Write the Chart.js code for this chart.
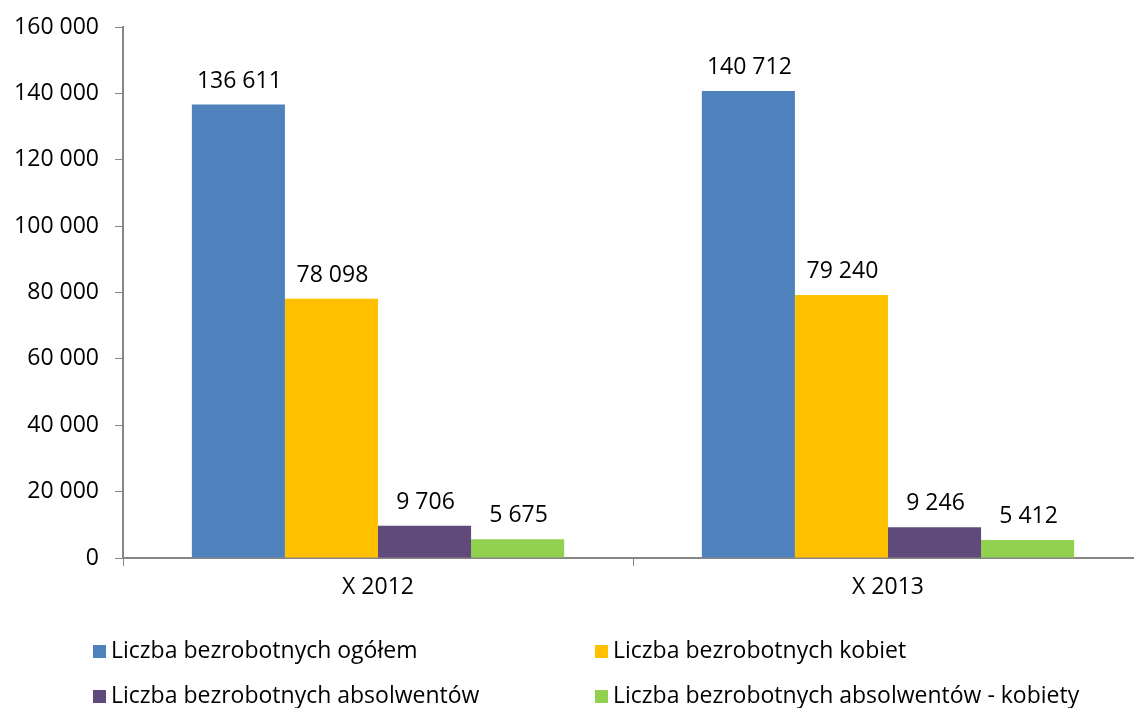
<!DOCTYPE html>
<html>
<head>
<meta charset="utf-8">
<script src="https://cdn.jsdelivr.net/npm/chart.js@4.4.0/dist/chart.umd.min.js"></script>
<style>
  html, body { margin: 0; padding: 0; background: #fff; overflow: hidden; }
  #wrap { position: relative; width: 1150px; height: 708px; }
  #legend { position: absolute; left: 0; top: 0; font-family: "Open Sans", sans-serif; font-size: 23px; color: #000; }
  .item { position: absolute; white-space: nowrap; line-height: 26px; }
  .item span.box { display: inline-block; width: 13px; height: 13px; margin-right: 5px; vertical-align: 0px; }
</style>
</head>
<body>
<div id="wrap">
  <canvas id="grafica" width="1150" height="708"></canvas>
  <div id="legend"></div>
</div>
<script>
// Dane
const categories = ['X 2012', 'X 2013'];
const seriesNames = [
  'Liczba bezrobotnych ogółem',
  'Liczba bezrobotnych kobiet',
  'Liczba bezrobotnych absolwentów',
  'Liczba bezrobotnych absolwentów - kobiety'
];
const ogolem = [136611, 140712];
const kobiet = [78098, 79240];
const absolwentow = [9706, 9246];
const absolwentowKobiety = [5675, 5412];
const seriesColors = ['#4F81BD', '#FFC000', '#604A7B', '#92D050'];
const yTicks = [0, 20000, 40000, 60000, 80000, 100000, 120000, 140000, 160000];

const fmt = v => String(v).replace(/\B(?=(\d{3})+(?!\d))/g, ' ');
const FONT = '"Open Sans", sans-serif';

// etykiety nad słupkami
const valueLabels = {
  id: 'valueLabels',
  afterDatasetsDraw(chart) {
    const ctx = chart.ctx;
    ctx.save();
    ctx.font = '23px ' + FONT;
    ctx.fillStyle = '#000';
    ctx.textAlign = 'center';
    ctx.textBaseline = 'bottom';
    chart.data.datasets.forEach((ds, i) => {
      chart.getDatasetMeta(i).data.forEach((bar, j) => {
        ctx.fillText(fmt(ds.data[j]), bar.x + 1, bar.y - 12);
      });
    });
    ctx.restore();
  }
};

const allSeries = [ogolem, kobiet, absolwentow, absolwentowKobiety];

document.addEventListener('DOMContentLoaded', function () {
  const ctx = document.getElementById('grafica').getContext('2d');
  new Chart(ctx, {
    type: 'bar',
    data: {
      labels: categories,
      datasets: allSeries.map((d, i) => ({
        label: seriesNames[i],
        data: d,
        backgroundColor: seriesColors[i],
        borderWidth: 0,
        categoryPercentage: 0.73,
        barPercentage: 1.0
      }))
    },
    options: {
      responsive: false,
      animation: false,
      layout: { padding: { top: 27, right: 7, bottom: 0, left: 0 } },
      plugins: { legend: { display: false }, tooltip: { enabled: false } },
      scales: {
        x: {
          grid: { offset: true, drawOnChartArea: false, drawTicks: true, tickLength: 8, color: '#868686' },
          border: { color: '#868686', width: 2 },
          ticks: { color: '#000', font: { family: FONT, size: 23 }, padding: 8 },
          afterFit(s) { s.height = 150; }
        },
        y: {
          min: 0, max: 160000,
          afterBuildTicks(s) { s.ticks = yTicks.map(v => ({ value: v })); },
          grid: { drawOnChartArea: false, drawTicks: true, tickLength: 8, color: '#868686' },
          border: { color: '#868686', width: 2 },
          ticks: { color: '#000', font: { family: FONT, size: 23 }, padding: 16, callback: v => fmt(v) },
          afterFit(s) { s.width = 123; s.paddingTop = 0; s.paddingBottom = 0; }
        }
      }
    },
    plugins: [valueLabels]
  });

  // legenda
  const legend = document.getElementById('legend');
  const pos = [[93, 636], [595, 636], [93, 681], [595, 681]];
  seriesNames.forEach((name, i) => {
    const el = document.createElement('div');
    el.className = 'item';
    el.style.left = pos[i][0] + 'px';
    el.style.top = pos[i][1] + 'px';
    el.innerHTML = '<span class="box" style="background:' + seriesColors[i] + '"></span>' + name;
    legend.appendChild(el);
  });
});
</script>
</body>
</html>
